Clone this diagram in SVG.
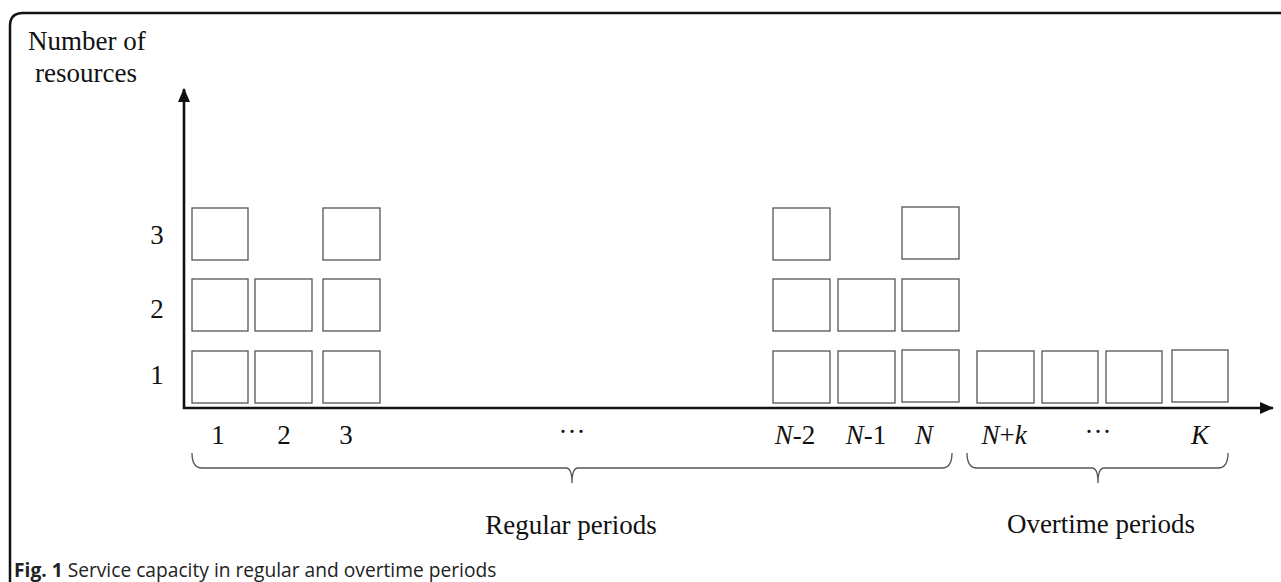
<svg xmlns="http://www.w3.org/2000/svg" width="1281" height="582" viewBox="0 0 1281 582">
<style>
.bx{fill:#fff;stroke:#555;stroke-width:1.3}
.t{font-family:"Liberation Serif",serif;font-size:27px;fill:#111}
.i{font-style:italic}
.m{text-anchor:middle}
.ax{stroke:#111;stroke-width:2.6;fill:none}
.br{stroke:#555;stroke-width:1.3;fill:none}
.cap{font-family:"Open Sans",sans-serif;font-size:19.2px;fill:#222}
</style>
<defs>
<marker id="ah" viewBox="0 0 14 12" refX="13" refY="6" markerWidth="14" markerHeight="12" markerUnits="userSpaceOnUse" orient="auto">
<path d="M0,0 L14,6 L0,12 Z" fill="#111"/>
</marker>
</defs>
<rect width="1281" height="582" fill="#fff"/>
<path d="M10,582 V26 Q10,13 23,13 H1281" fill="none" stroke="#111" stroke-width="2.5"/>
<g id="labels">
<text class="t" x="28" y="50">Number of</text>
<text class="t" x="35" y="82">resources</text>
<text class="t m" x="157" y="244">3</text>
<text class="t m" x="157" y="318">2</text>
<text class="t m" x="157" y="384">1</text>
<text class="t m" x="218" y="444">1</text>
<text class="t m" x="284" y="444">2</text>
<text class="t m" x="346" y="444">3</text>
<text class="t m" x="572" y="441">···</text>
<text class="t m" x="795" y="444"><tspan class="i">N</tspan>-2</text>
<text class="t m" x="866" y="444"><tspan class="i">N</tspan>-1</text>
<text class="t m i" x="924" y="444">N</text>
<text class="t m" x="1004" y="444"><tspan class="i">N</tspan>+<tspan class="i">k</tspan></text>
<text class="t m" x="1098" y="441">···</text>
<text class="t m i" x="1200" y="444">K</text>
<text class="t m" x="571" y="534">Regular periods</text>
<text class="t m" x="1101" y="533">Overtime periods</text>
<text class="cap" x="14" y="577"><tspan font-weight="bold">Fig. 1</tspan> Service capacity in regular and overtime periods</text>
</g>
<g id="connectors">
<line class="ax" x1="184" y1="409" x2="184" y2="89" marker-end="url(#ah)"/>
<line class="ax" x1="183" y1="408" x2="1273" y2="408" marker-end="url(#ah)"/>
<path class="br" d="M192,453 Q192,468 202,468 H566 Q572,468 572,483 Q572,468 578,468 H942 Q952,468 952,453"/>
<path class="br" d="M967,453 Q967,468 977,468 H1092 Q1098,468 1098,483 Q1098,468 1104,468 H1218 Q1228,468 1228,453"/>
</g>
<g id="col1"><rect class="bx" x="192" y="208" width="56" height="52"/><rect class="bx" x="192" y="279" width="56" height="52"/><rect class="bx" x="192" y="351" width="56" height="52"/></g>
<g id="col2"><rect class="bx" x="255" y="279" width="57" height="52"/><rect class="bx" x="255" y="351" width="57" height="52"/></g>
<g id="col3"><rect class="bx" x="323" y="208" width="57" height="52"/><rect class="bx" x="323" y="279" width="57" height="52"/><rect class="bx" x="323" y="351" width="57" height="52"/></g>
<g id="colN2"><rect class="bx" x="773" y="208" width="57" height="52"/><rect class="bx" x="773" y="279" width="57" height="52"/><rect class="bx" x="773" y="351" width="57" height="52"/></g>
<g id="colN1"><rect class="bx" x="838" y="279" width="57" height="52"/><rect class="bx" x="838" y="351" width="57" height="52"/></g>
<g id="colN"><rect class="bx" x="902" y="207" width="57" height="52"/><rect class="bx" x="902" y="279" width="57" height="52"/><rect class="bx" x="902" y="350" width="57" height="52"/></g>
<g id="ot1"><rect class="bx" x="977" y="351" width="57" height="52"/></g>
<g id="ot2"><rect class="bx" x="1042" y="351" width="56" height="52"/></g>
<g id="ot3"><rect class="bx" x="1106" y="351" width="56" height="52"/></g>
<g id="ot4"><rect class="bx" x="1172" y="350" width="56" height="52"/></g>
</svg>
